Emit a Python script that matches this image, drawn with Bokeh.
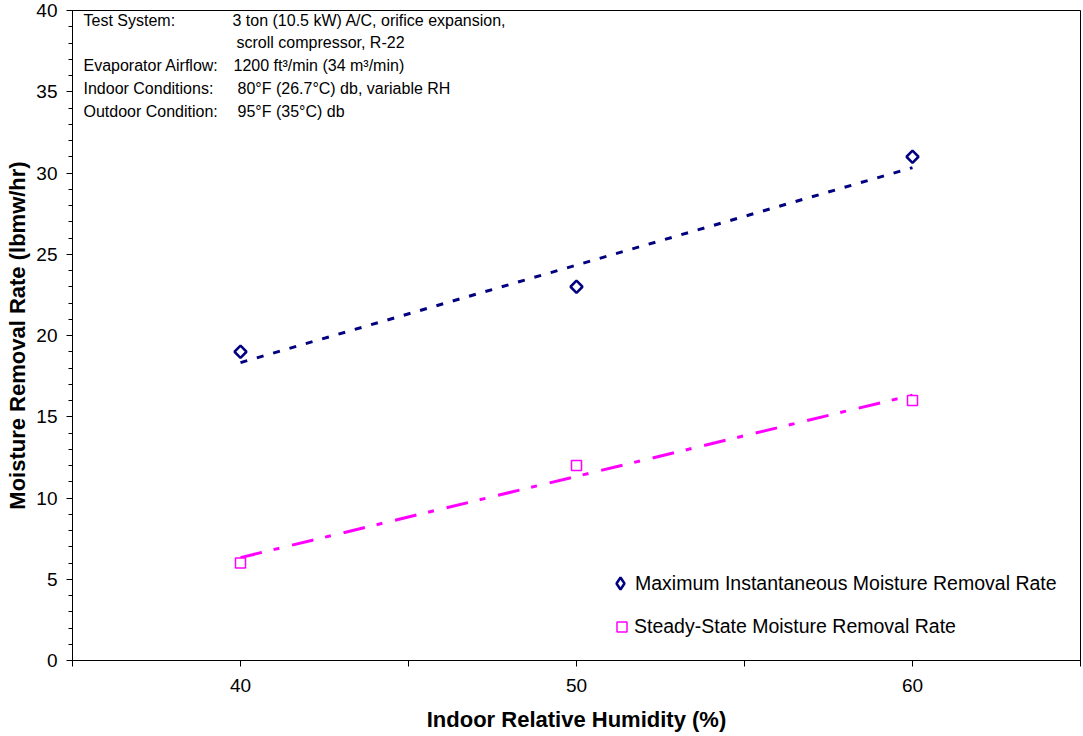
import numpy as np
from bokeh.plotting import figure
from bokeh.models import FixedTicker, Legend, LegendItem, Label, Range1d
from bokeh.embed import file_html
from bokeh.resources import INLINE

# Measured moisture removal at each indoor relative humidity
humidity = [40, 50, 60]
max_rate = [19, 23, 31]
steady_rate = [6, 12, 16]

x_ticks = [35, 40, 45, 50, 55, 60, 65]
x_tick_text = ["", "40", "", "50", "", "60", ""]
y_ticks = [0, 5, 10, 15, 20, 25, 30, 35, 40]
y_minor = list(range(0, 41))

info_names = ["Test System:", "", "Evaporator Airflow:", "Indoor Conditions:", "Outdoor Condition:"]
info_values = [
    "3 ton (10.5 kW) A/C, orifice expansion,",
    "scroll compressor, R-22",
    "1200 ft\u00b3/min (34 m\u00b3/min)",
    "80\u00b0F (26.7\u00b0C) db, variable RH",
    "95\u00b0F (35\u00b0C) db",
]

FONT = "Liberation Sans"
NAVY = "#000080"
MAGENTA = "#FF00FF"

p = figure(width=1083, height=736, output_backend="svg", toolbar_location=None,
           x_range=Range1d(35, 65), y_range=Range1d(0, 40),
           min_border_left=72, min_border_right=3, min_border_top=10, min_border_bottom=76)
p.background_fill_color = "white"
p.border_fill_color = "white"
p.outline_line_color = "black"
p.outline_line_width = 1
p.xgrid.visible = False
p.ygrid.visible = False

# axes
p.xaxis.ticker = FixedTicker(ticks=x_ticks)
p.xaxis.major_label_overrides = {t: s for t, s in zip(x_ticks, x_tick_text)}
p.xaxis.minor_tick_line_color = None
p.yaxis.ticker = FixedTicker(ticks=y_ticks, minor_ticks=y_minor)
for ax in (p.xaxis[0], p.yaxis[0]):
    ax.axis_line_color = "black"
    ax.major_tick_line_color = "black"
    ax.major_tick_in = 0
    ax.major_tick_out = 6
    ax.minor_tick_in = 0
    ax.minor_tick_out = 4
    ax.major_label_text_font = FONT
    ax.major_label_text_font_size = "19px"
    ax.major_label_text_color = "black"
    ax.axis_label_text_font = FONT
    ax.axis_label_text_font_size = "22px"
    ax.axis_label_text_font_style = "bold"
    ax.axis_label_text_color = "black"
p.xaxis.axis_label = "Indoor Relative Humidity (%)"
p.yaxis.axis_label = "Moisture Removal Rate (lbmw/hr)"
p.xaxis.major_label_standoff = 12
p.xaxis.axis_label_standoff = 12
p.yaxis.major_label_standoff = 9
p.yaxis.axis_label_standoff = 3

# linear trend lines through each series
span = np.array([min(humidity), max(humidity)], dtype=float)
m1, b1 = np.polyfit(humidity, max_rate, 1)
m2, b2 = np.polyfit(humidity, steady_rate, 1)
p.line(span, m1 * span + b1, line_color=NAVY, line_width=3, line_dash="7 10")
p.line(span, m2 * span + b2, line_color=MAGENTA, line_width=3, line_dash="22 12 6 13")

# open diamonds: squares turned by 45 degrees
p.scatter(humidity, max_rate, marker="square", angle=np.pi / 4, size=8.5,
          fill_color="white", line_color=NAVY, line_width=2.5)
r_ss = p.scatter(humidity, steady_rate, marker="square", size=10,
                 fill_color="white", line_color=MAGENTA, line_width=1.5)

# legend swatch for the diamonds (legend glyphs are drawn unrotated); it sits on
# a y range far outside the frame, so only its legend entry is visible
p.extra_y_ranges = {"key": Range1d(1000, 1001)}
r_max_key = p.scatter(humidity, max_rate, y_range_name="key", marker="diamond", size=12,
                      fill_color="white", line_color=NAVY, line_width=2.5)


def make_legend(label, renderer, box, loc):
    lg = Legend(items=[LegendItem(label=label, renderers=[renderer])], location=loc)
    lg.border_line_color = None
    lg.background_fill_alpha = 0
    lg.label_text_font = FONT
    lg.label_text_font_size = "19.5px"
    lg.label_text_color = "black"
    lg.glyph_width = box
    lg.glyph_height = box
    lg.label_height = box
    lg.label_standoff = 0
    lg.padding = 0
    lg.margin = 0
    return lg


# legend marker size scales with its box, so each entry gets its own box
p.add_layout(make_legend("Maximum Instantaneous Moisture Removal Rate", r_max_key, 30, (533, 62)), "center")
p.add_layout(make_legend("Steady-State Moisture Removal Rate", r_ss, 25, (537, 21.5)), "center")


# test-condition notes in the upper left corner
def px_to_x(px):
    return 35 + (px - 72) / 1008 * 30


def py_to_y(py):
    return 40 - (py - 10) / 650 * 40


row_y = [20, 42, 65, 88, 111]
value_x = [232, 236, 233, 237, 237]
for name, val, ry, vx in zip(info_names, info_values, row_y, value_x):
    if name:
        p.add_layout(Label(x=px_to_x(83), y=py_to_y(ry), text=name, text_font=FONT,
                           text_font_size="16px", text_baseline="middle", text_color="black"))
    p.add_layout(Label(x=px_to_x(vx), y=py_to_y(ry), text=val, text_font=FONT,
                       text_font_size="16px", text_baseline="middle", text_color="black"))

open("out.html", "w").write(file_html(p, INLINE))
